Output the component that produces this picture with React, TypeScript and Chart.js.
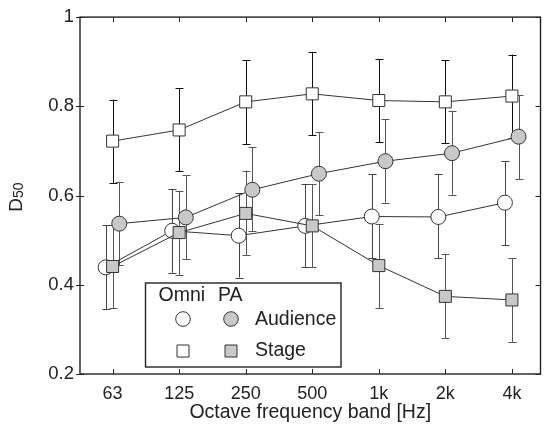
import React, { useEffect, useRef } from 'react';
import { Chart, registerables } from 'chart.js';

Chart.register(...registerables);

const bands = ['63', '125', '250', '500', '1k', '2k', '4k'];
const yTicks = [0.2, 0.4, 0.6, 0.8, 1];

const omniAudience = [0.439, 0.521, 0.510, 0.532, 0.553, 0.552, 0.584];
const omniAudienceHi = [0.533, 0.615, 0.605, 0.626, 0.648, 0.648, 0.677];
const omniAudienceLo = [0.345, 0.427, 0.416, 0.439, 0.459, 0.459, 0.489];

const paAudience = [0.537, 0.551, 0.613, 0.649, 0.677, 0.695, 0.732];
const paAudienceHi = [0.631, 0.645, 0.708, 0.743, 0.771, 0.790, 0.825];
const paAudienceLo = [0.444, 0.457, 0.520, 0.556, 0.584, 0.602, 0.637];

const omniStage = [0.722, 0.747, 0.810, 0.828, 0.813, 0.810, 0.823];
const omniStageHi = [0.815, 0.841, 0.903, 0.922, 0.906, 0.903, 0.916];
const omniStageLo = [0.628, 0.654, 0.715, 0.735, 0.719, 0.717, 0.730];

const paStage = [0.441, 0.517, 0.560, 0.532, 0.443, 0.374, 0.366];
const paStageHi = [0.535, 0.611, 0.656, 0.626, 0.536, 0.468, 0.460];
const paStageLo = [0.347, 0.422, 0.467, 0.439, 0.348, 0.280, 0.272];

const FONT = '"Liberation Sans", Arial, sans-serif';
const GREY = '#c8c8c8';
const LINE = '#333';

// small horizontal shift so the markers don't sit on top of each other
const shift = (vals: number[], dx: number) => vals.map((y, i) => ({ x: i + dx, y }));

const errorBars = {
    id: 'errorBars',
    beforeDatasetsDraw(chart: any) {
        const { ctx } = chart;
        const xs = chart.scales.x;
        const ys = chart.scales.y;
        ctx.save();
        ctx.lineWidth = 1;
        chart.data.datasets.forEach((ds: any) => {
            ctx.strokeStyle = ds.barColor;
            ds.data.forEach((p: any, i: number) => {
                const x = Math.round(xs.getPixelForValue(p.x)) + 0.5;
                const top = ys.getPixelForValue(ds.hi[i]);
                const bot = ys.getPixelForValue(ds.lo[i]);
                ctx.beginPath();
                ctx.moveTo(x, top);
                ctx.lineTo(x, bot);
                ctx.moveTo(x - 4, Math.round(top) + 0.5);
                ctx.lineTo(x + 4, Math.round(top) + 0.5);
                ctx.moveTo(x - 4, Math.round(bot) + 0.5);
                ctx.lineTo(x + 4, Math.round(bot) + 0.5);
                ctx.stroke();
            });
        });
        ctx.restore();
    },
};

const frame = {
    id: 'frame',
    afterDraw(chart: any) {
        const { ctx, chartArea: a } = chart;
        const xs = chart.scales.x;
        const ys = chart.scales.y;
        ctx.save();
        ctx.strokeStyle = '#222';
        ctx.lineWidth = 1.4;
        ctx.strokeRect(a.left, a.top, a.right - a.left, a.bottom - a.top);
        ctx.lineWidth = 1;
        ctx.beginPath();
        bands.forEach((_, i) => {
            const x = Math.round(xs.getPixelForValue(i)) + 0.5;
            ctx.moveTo(x, a.bottom);
            ctx.lineTo(x, a.bottom - 5);
            ctx.moveTo(x, a.top);
            ctx.lineTo(x, a.top + 5);
        });
        yTicks.forEach((v) => {
            const y = Math.round(ys.getPixelForValue(v)) + 0.5;
            ctx.moveTo(a.left - 4, y);
            ctx.lineTo(a.left + 4, y);
            ctx.moveTo(a.right, y);
            ctx.lineTo(a.right - 5, y);
        });
        ctx.stroke();

        // axis titles
        ctx.fillStyle = '#222';
        ctx.font = `19.5px ${FONT}`;
        ctx.textAlign = 'center';
        ctx.textBaseline = 'middle';
        ctx.fillText('Octave frequency band [Hz]', (a.left + a.right) / 2, 413);

        ctx.save();
        ctx.translate(17, 197);
        ctx.rotate(-Math.PI / 2);
        ctx.textAlign = 'left';
        ctx.textBaseline = 'alphabetic';
        ctx.font = `19px ${FONT}`;
        const dW = ctx.measureText('D').width;
        ctx.font = `14px ${FONT}`;
        const sW = ctx.measureText('50').width;
        const x0 = -(dW + sW) / 2;
        ctx.font = `19px ${FONT}`;
        ctx.fillText('D', x0, 4.5);
        ctx.font = `14px ${FONT}`;
        ctx.fillText('50', x0 + dW, 5.5);
        ctx.restore();

        // legend box
        const lx = 145.5, ly = 283, lw = 195.5, lh = 84;
        ctx.fillStyle = '#fff';
        ctx.fillRect(lx, ly, lw, lh);
        ctx.lineWidth = 1.4;
        ctx.strokeRect(lx, ly, lw, lh);
        ctx.fillStyle = '#222';
        ctx.font = `19.5px ${FONT}`;
        ctx.textAlign = 'left';
        ctx.textBaseline = 'middle';
        ctx.fillText('Omni', 158.5, 296);
        ctx.fillText('PA', 218, 296);
        ctx.fillText('Audience', 255, 320);
        ctx.fillText('Stage', 255, 351);
        ctx.lineWidth = 1;
        ctx.strokeStyle = LINE;
        const marker = (x: number, y: number, style: string, fill: string) => {
            ctx.fillStyle = fill;
            ctx.beginPath();
            if (style === 'circle') ctx.arc(x, y, 7.3, 0, Math.PI * 2);
            else ctx.rect(x - 6, y - 6, 12, 12);
            ctx.fill();
            ctx.stroke();
        };
        marker(183, 319, 'circle', '#fff');
        marker(231, 319, 'circle', GREY);
        marker(183, 351, 'rect', '#fff');
        marker(231, 351, 'rect', GREY);
        ctx.restore();
    },
};

const series = (label: string, vals: number[], hi: number[], lo: number[], dx: number, style: string, fill: string, barColor: string) => ({
    label,
    data: shift(vals, dx),
    hi,
    lo,
    barColor,
    borderColor: LINE,
    borderWidth: 1,
    pointStyle: style,
    pointRadius: style === 'circle' ? 7.5 : 8.5,
    pointBackgroundColor: fill,
    pointBorderColor: LINE,
    pointBorderWidth: 1,
    tension: 0,
    fill: false,
});

const App: React.FC = () => {
    const chartRef = useRef<HTMLCanvasElement | null>(null);
    const chartInstanceRef = useRef<Chart | null>(null);

    useEffect(() => {
        if (!chartRef.current) return;
        document.body.style.margin = '0';

        chartInstanceRef.current = new Chart(chartRef.current, {
            type: 'line',
            data: {
                datasets: [
                    series('PA Stage', paStage, paStageHi, paStageLo, 0, 'rect', GREY, '#555'),
                    series('Omni Audience', omniAudience, omniAudienceHi, omniAudienceLo, -0.105, 'circle', '#fff', '#444'),
                    series('PA Audience', paAudience, paAudienceHi, paAudienceLo, 0.1, 'circle', GREY, '#555'),
                    series('Omni Stage', omniStage, omniStageHi, omniStageLo, 0, 'rect', '#fff', '#111'),
                ] as any,
            },
            options: {
                animation: false,
                responsive: false,
                layout: { padding: { top: 16, right: 2, left: 0, bottom: 0 } },
                scales: {
                    x: {
                        type: 'linear',
                        min: -0.49,
                        max: 6.43,
                        afterBuildTicks: (scale: any) => {
                            scale.ticks = bands.map((_, i) => ({ value: i }));
                        },
                        afterFit: (scale: any) => {
                            scale.height = 51;
                        },
                        grid: { display: false, drawTicks: false },
                        border: { display: false },
                        ticks: {
                            autoSkip: false,
                            maxRotation: 0,
                            padding: 9,
                            color: '#222',
                            font: { family: FONT, size: 18 },
                            callback: (v: any) => bands[Math.round(Number(v))],
                        },
                    },
                    y: {
                        min: 0.2,
                        max: 1,
                        afterBuildTicks: (scale: any) => {
                            scale.ticks = yTicks.map((v) => ({ value: v }));
                        },
                        afterFit: (scale: any) => {
                            scale.width = 80;
                        },
                        grid: { display: false, drawTicks: false },
                        border: { display: false },
                        ticks: {
                            padding: 6,
                            color: '#222',
                            font: { family: FONT, size: 18.5 },
                            callback: (v: any) => String(Number(v)),
                        },
                    },
                },
                plugins: {
                    legend: { display: false },
                    tooltip: { enabled: false },
                },
            },
            plugins: [errorBars, frame],
        });

        return () => {
            chartInstanceRef.current?.destroy();
        };
    }, []);

    return (
        <div style={{ position: 'absolute', left: 0, top: 0, width: 550, height: 425, background: '#fff' }}>
            <canvas ref={chartRef} width={550} height={425} style={{ width: 550, height: 425 }}></canvas>
        </div>
    );
};

export default App;
